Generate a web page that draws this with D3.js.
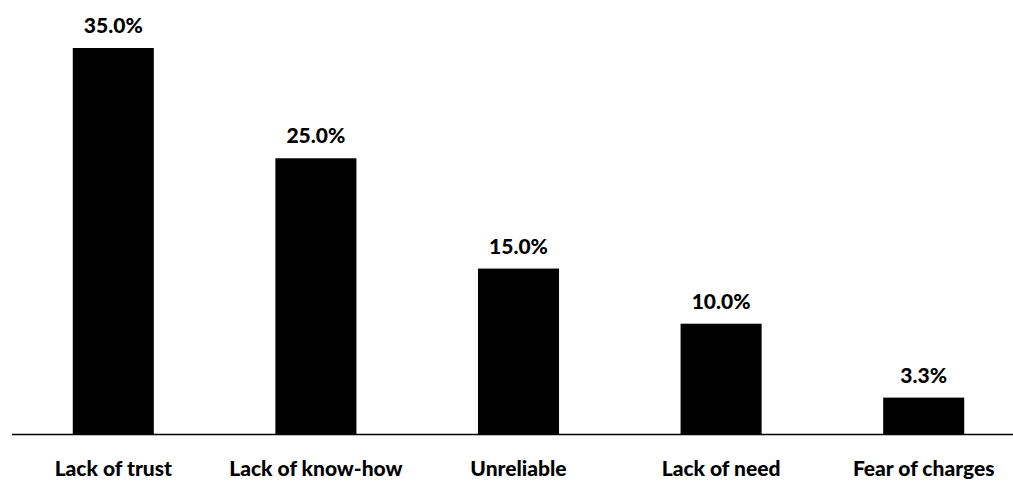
<!DOCTYPE html>
<html>
<head>
<meta charset="utf-8">
<script src="https://cdn.jsdelivr.net/npm/d3@7"></script>
<style>
  body { margin: 0; background: #fff; }
  text { font-family: Lato, "Open Sans", sans-serif; font-weight: 900; fill: #000; }
</style>
</head>
<body>
<svg id="chart"></svg>
<script>
const categories = ["Lack of trust", "Lack of know-how", "Unreliable", "Lack of need", "Fear of charges"];
const values = [35.0, 25.0, 15.0, 10.0, 3.3];

const width = 1013, height = 481;
const baseY = 434;

const svg = d3.select("#chart")
    .attr("width", width)
    .attr("height", height);

const xscale = d3.scaleBand()
    .domain(categories)
    .range([12, 1025])
    .paddingInner(0.6)
    .paddingOuter(0.3);

const yscale = d3.scaleLinear()
    .domain([0, 35])
    .range([baseY, 48]);

const data = categories.map((c, i) => ({label: c, value: values[i]}));

// bars
svg.selectAll("rect.bar")
    .data(data)
    .enter()
    .append("rect")
    .attr("class", "bar")
    .attr("x", d => xscale(d.label))
    .attr("y", d => yscale(d.value))
    .attr("width", xscale.bandwidth())
    .attr("height", d => baseY - yscale(d.value))
    .attr("fill", "#000");

// value labels
svg.selectAll("text.val")
    .data(data)
    .enter()
    .append("text")
    .attr("class", "val")
    .attr("x", d => xscale(d.label) + xscale.bandwidth() / 2)
    .attr("y", d => yscale(d.value) - 15)
    .attr("text-anchor", "middle")
    .attr("font-size", 21)
    .text(d => d.value.toFixed(1) + "%");

// x axis line
svg.append("line")
    .attr("x1", 12)
    .attr("x2", width)
    .attr("y1", baseY + 0.5)
    .attr("y2", baseY + 0.5)
    .attr("stroke", "#000")
    .attr("stroke-width", 1.5);

// category labels
svg.selectAll("text.cat")
    .data(data)
    .enter()
    .append("text")
    .attr("class", "cat")
    .attr("x", d => xscale(d.label) + xscale.bandwidth() / 2)
    .attr("y", 476)
    .attr("text-anchor", "middle")
    .attr("font-size", 21)
    .text(d => d.label);
</script>
</body>
</html>
